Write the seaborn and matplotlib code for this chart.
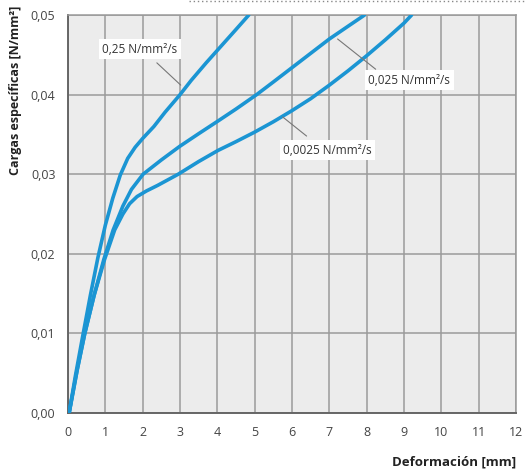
import matplotlib
matplotlib.use("Agg")
import matplotlib.pyplot as plt
from matplotlib.lines import Line2D
import seaborn as sns
import pandas as pd

# Load-deformation curves at three loading rates
rate_labels = ["0,25 N/mm²/s", "0,025 N/mm²/s", "0,0025 N/mm²/s"]

x_fast = [0.03, 0.2, 0.4, 0.6, 0.8, 1.0, 1.2, 1.4, 1.6, 1.8, 2.0, 2.3, 2.6, 3.0, 3.3,
          3.7, 4.1, 4.5, 4.84]
y_fast = [0.0, 0.0047, 0.0098, 0.0148, 0.0195, 0.0236, 0.0270, 0.0299, 0.0320, 0.0334,
          0.0345, 0.0360, 0.0378, 0.0400, 0.0418, 0.0440, 0.0461, 0.0482, 0.0500]

x_mid = [0.03, 0.25, 0.45, 0.7, 0.96, 1.21, 1.47, 1.70, 2.01, 2.5, 2.99, 3.5, 4.02, 4.5,
         5.05, 5.5, 6.0, 6.5, 7.0, 7.5, 7.94]
y_mid = [0.0, 0.0055, 0.0100, 0.0148, 0.0193, 0.0230, 0.0260, 0.0281, 0.0300, 0.0318,
         0.0335, 0.0351, 0.0367, 0.0382, 0.0400, 0.0416, 0.0434, 0.0452, 0.0470, 0.0486,
         0.0500]

x_slow = [0.03, 0.25, 0.45, 0.7, 0.98, 1.25, 1.47, 1.65, 1.85, 2.1, 2.4, 2.95, 3.5, 4.02,
          4.5, 5.0, 5.5, 6.0, 6.5, 7.0, 7.5, 8.0, 8.5, 9.0, 9.2]
y_slow = [0.0, 0.0055, 0.0100, 0.0148, 0.0193, 0.0230, 0.0250, 0.0263, 0.0272, 0.0279,
          0.0286, 0.0300, 0.0316, 0.0330, 0.0341, 0.0353, 0.0366, 0.0380, 0.0395, 0.0412,
          0.0430, 0.0449, 0.0469, 0.0490, 0.0500]

x_ticks = list(range(0, 13))
y_ticks = [0.00, 0.01, 0.02, 0.03, 0.04, 0.05]
y_tick_labels = ["0,00", "0,01", "0,02", "0,03", "0,04", "0,05"]

# label text position and leader line (start -> end) for each curve
label_pos = [(1.93, 0.0457), (9.14, 0.0418), (6.95, 0.0330)]
leader_lines = [((2.38, 0.0440), (3.02, 0.0412)),
                ((8.24, 0.0432), (7.22, 0.0470)),
                ((6.39, 0.0348), (5.75, 0.0372))]

frames = []
for lab, xs, ys in zip(rate_labels, [x_fast, x_mid, x_slow], [y_fast, y_mid, y_slow]):
    frames.append(pd.DataFrame({"x": xs, "y": ys, "rate": lab}))
df = pd.concat(frames, ignore_index=True)

sns.set_theme(style="white")
plt.rcParams["font.family"] = ["Open Sans", "DejaVu Sans"]

blue = "#1b95d3"
fig = plt.figure(figsize=(5.25, 4.72), dpi=100)
ax = fig.add_axes([0.1295, 0.125, 0.8535, 0.843])
ax.set_facecolor("#ececec")

sns.lineplot(data=df, x="x", y="y", units="rate", estimator=None, sort=False,
             color=blue, linewidth=2.6, ax=ax, legend=False, zorder=3)
for line in ax.get_lines():
    line.set_solid_joinstyle("round")
    line.set_solid_capstyle("round")

ax.set_xlim(0, 12)
ax.set_ylim(0, 0.05)
ax.set_xticks(x_ticks)
ax.set_xticklabels([str(t) for t in x_ticks])
ax.set_yticks(y_ticks)
ax.set_yticklabels(y_tick_labels)
ax.grid(True, color="#9a9a9a", linewidth=1.1)
ax.set_axisbelow(True)
ax.tick_params(axis="both", length=0, labelsize=9, labelcolor="#444444")
ax.tick_params(axis="x", pad=9)
ax.tick_params(axis="y", pad=9)

for side in ["top", "right"]:
    ax.spines[side].set_color("#9a9a9a")
    ax.spines[side].set_linewidth(1.1)
for side in ["left", "bottom"]:
    ax.spines[side].set_color("#666666")
    ax.spines[side].set_linewidth(1.4)

for lab, (tx, ty), ((x0, y0), (x1, y1)) in zip(rate_labels, label_pos, leader_lines):
    ax.plot([x0, x1], [y0, y1], color="#777777", linewidth=0.8, zorder=4)
    ax.text(tx, ty, lab, ha="center", va="center", fontsize=8.5, color="#333333", zorder=5,
            bbox=dict(boxstyle="square,pad=0.3", facecolor="white", edgecolor="none"))

ax.set_ylabel("")
ax.set_xlabel("")
fig.text(0.029, 0.989, "Cargas específicas [N/mm²]", rotation=90, ha="center", va="top",
         fontsize=9, fontweight="bold", color="#222222")
fig.text(0.983, 0.022, "Deformación [mm]", ha="right", va="center",
         fontsize=9.5, fontweight="bold", color="#222222")

# dotted rule along the top edge
fig.add_artist(Line2D([0.36, 1.0], [0.997, 0.997], transform=fig.transFigure,
                      color="#888888", linewidth=1.0, linestyle=(0, (1, 2))))

fig.savefig("out.png", dpi=100)
